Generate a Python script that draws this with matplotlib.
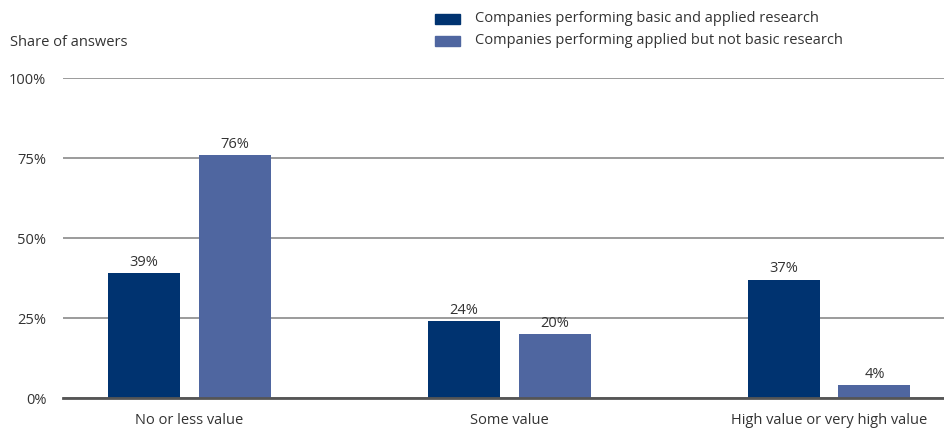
import matplotlib
matplotlib.use("Agg")
import matplotlib.pyplot as plt
import numpy as np
from matplotlib.patches import Rectangle

plt.rcParams['font.family'] = ['Open Sans', 'DejaVu Sans']

categories = ["No or less value", "Some value", "High value or very high value"]
series_names = ["Companies performing basic and applied research",
                "Companies performing applied but not basic research"]
basic_applied = [39, 24, 37]
applied_only = [76, 20, 4]
yticks = [0, 25, 50, 75, 100]
ytick_labels = ["0%", "25%", "50%", "75%", "100%"]

c_dark = "#003370"
c_light = "#4f66a0"
txt = "#333333"
fs = 10.5

fig = plt.figure(figsize=(9.45, 4.29), dpi=100)
ax = fig.add_axes([63/945, 31/429, 882/945, 320/429])

x = np.arange(len(categories))
w = 0.225
off = 0.142
b1 = ax.bar(x - off, basic_applied, w, color=c_dark, zorder=3)
b2 = ax.bar(x + off, applied_only, w, color=c_light, zorder=3)
for bars, vals in ((b1, basic_applied), (b2, applied_only)):
    for r, v in zip(bars, vals):
        ax.text(r.get_x() + r.get_width()/2, v + 1.0, f"{v}%", ha="center", va="bottom",
                fontsize=fs, color=txt)

ax.set_xlim(-0.395, 2.3625)
ax.set_ylim(0, 100)
ax.set_yticks(yticks)
ax.set_yticklabels(ytick_labels)
ax.yaxis.grid(True, color="#8a8a8a", linewidth=1.2, zorder=0)
ax.set_xticks(x)
ax.set_xticklabels(categories)
ax.tick_params(axis="both", length=0, labelsize=fs, colors=txt)
ax.tick_params(axis="y", pad=12)
ax.tick_params(axis="x", pad=11)
for s in ("top", "right", "left"):
    ax.spines[s].set_visible(False)
ax.spines["bottom"].set_color("#555555")
ax.spines["bottom"].set_linewidth(2)
ax.spines["bottom"].set_zorder(4)

fig.text(10/945, 1 - 42/429, "Share of answers", fontsize=fs, color=txt, va="center", ha="left")

# legend
for i, (name, col) in enumerate(zip(series_names, (c_dark, c_light))):
    yc = 19 + i * 22
    fig.patches.append(Rectangle((435/945, 1 - (yc + 5)/429), 25/945, 10/429,
                                 transform=fig.transFigure, color=col, figure=fig))
    fig.text(475/945, 1 - yc/429, name, fontsize=fs, color=txt, va="center", ha="left")

fig.savefig("out.png", dpi=100)
